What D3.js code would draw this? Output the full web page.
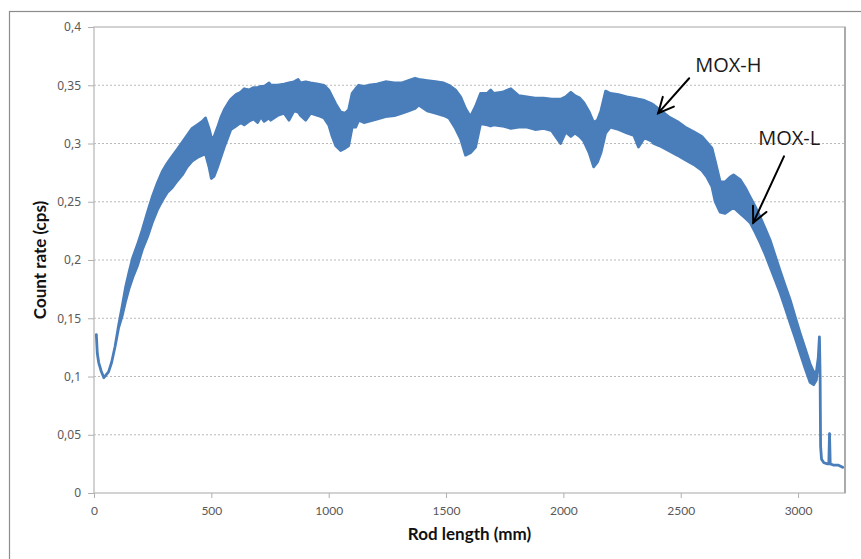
<!DOCTYPE html>
<html><head><meta charset="utf-8">
<script src="https://cdn.jsdelivr.net/npm/d3@7"></script>
<style>html,body{margin:0;padding:0;background:#fff;}svg{display:block;}</style>
</head><body>
<svg id="chart" width="861" height="559"></svg>
<script>
// ---- data ----
const rodLength = [10,14,20,30,42,50,62,75,90,105,120,135,150,165,185,206,228,248,270,291,312,333,355,376,397,418,440,461,475,490,500,512,525,540,555,570,583,605,625,640,660,680,697,711,725,746,753,782,810,831,852,870,880,902,923,955,980,1000,1015,1030,1051,1070,1085,1100,1115,1128,1150,1170,1205,1242,1280,1313,1340,1368,1384,1420,1455,1490,1512,1540,1562,1583,1604,1626,1647,1675,1690,1703,1740,1776,1810,1845,1880,1916,1950,1988,2010,2032,2050,2070,2087,2110,2129,2145,2160,2180,2200,2235,2270,2300,2320,2345,2377,2385,2410,2448,2485,2519,2555,2590,2612,2633,2647,2668,2689,2710,2725,2753,2775,2796,2817,2838,2860,2881,2902,2923,2945,2966,2988,3009,3030,3051,3066,3078,3086,3091,3094,3096,3100,3110,3125,3131,3134,3137,3150,3170,3190];
const countLow = [.136,.120,.112,.105,.099,.101,.104,.112,.126,.142,.152,.165,.176,.185,.195,.209,.220,.232,.243,.251,.258,.262,.268,.273,.280,.285,.288,.290,.291,.280,.270,.272,.279,.288,.297,.305,.312,.315,.318,.316,.319,.321,.318,.323,.319,.322,.320,.324,.326,.320,.328,.327,.324,.320,.326,.324,.322,.316,.306,.298,.294,.296,.298,.314,.314,.320,.318,.319,.321,.323,.324,.326,.328,.330,.333,.328,.326,.324,.322,.313,.304,.290,.292,.297,.317,.316,.315,.316,.315,.313,.314,.314,.312,.313,.311,.300,.310,.306,.309,.306,.302,.292,.280,.284,.292,.309,.314,.312,.309,.307,.297,.305,.302,.300,.298,.294,.290,.286,.282,.277,.271,.263,.250,.241,.240,.243,.245,.240,.236,.232,.224,.215,.205,.194,.183,.172,.159,.146,.133,.120,.107,.095,.093,.097,.112,.134,.100,.040,.029,.026,.025,.025,.051,.025,.024,.024,.022];
const countHigh = [.136,.120,.112,.105,.099,.101,.104,.112,.126,.144,.160,.177,.190,.202,.213,.226,.241,.254,.266,.276,.283,.289,.295,.301,.307,.313,.316,.319,.322,.313,.305,.306,.313,.322,.329,.334,.338,.342,.344,.347,.346,.348,.348,.349,.349,.352,.350,.350,.351,.352,.353,.355,.352,.353,.352,.351,.350,.346,.340,.334,.327,.326,.329,.343,.347,.350,.349,.350,.351,.353,.352,.352,.354,.356,.355,.354,.353,.352,.350,.346,.340,.330,.323,.332,.343,.343,.346,.343,.344,.347,.341,.340,.339,.339,.338,.338,.340,.344,.341,.339,.335,.327,.318,.320,.328,.345,.343,.342,.340,.339,.338,.337,.334,.333,.329,.323,.319,.314,.310,.306,.301,.296,.285,.267,.267,.271,.273,.269,.262,.254,.246,.237,.227,.217,.204,.191,.178,.166,.151,.137,.124,.111,.104,.104,.116,.134,.100,.040,.029,.026,.025,.025,.051,.025,.024,.024,.022];

const yTicks = [0,0.05,0.1,0.15,0.2,0.25,0.3,0.35,0.4];
const yTickLabels = ["0","0,05","0,1","0,15","0,2","0,25","0,3","0,35","0,4"];
const xTicks = [0,500,1000,1500,2000,2500,3000];
const xTickLabels = ["0","500","1000","1500","2000","2500","3000"];

const annotLabels = ["MOX-H","MOX-L"];
const annotHead = [[2404,0.326],[2809,0.232]];
const annotTail = [[2536,0.356],[2940,0.289]];
const annotText = [[2562,0.361],[2830,0.299]];

// ---- drawing ----
const svg = d3.select("#chart");
const W = 861, H = 559;
const L = 94, R = 845, T = 27, B = 493;
const x = d3.scaleLinear().domain([0,3200]).range([L,R]);
const y = d3.scaleLinear().domain([0,0.4]).range([B,T]);

svg.append("rect").attr("width",W).attr("height",H).attr("fill","#fff");
// outer chart frame
svg.append("rect").attr("x",9.5).attr("y",11.5).attr("width",W+20).attr("height",H+20)
  .attr("fill","none").attr("stroke","#8c8c8c").attr("stroke-width",1.2);

// gridlines
svg.append("g").selectAll("line").data(yTicks.filter(v=>v>0 && v<0.4)).join("line")
  .attr("x1",L).attr("x2",R).attr("y1",d=>y(d)).attr("y2",d=>y(d))
  .attr("stroke","#b9b9b9").attr("stroke-width",1).attr("stroke-dasharray","2,2");

// plot area border
svg.append("rect").attr("x",L).attr("y",T).attr("width",R-L).attr("height",B-T)
  .attr("fill","none").attr("stroke","#c4c4c4").attr("stroke-width",1.5);
svg.append("line").attr("x1",R).attr("x2",R).attr("y1",T).attr("y2",B)
  .attr("stroke","#a6a6a6").attr("stroke-width",1.8);

// data band
const pts = rodLength.map((m,i)=>({m, lo:countLow[i], hi:countHigh[i]}));
const area = d3.area().x(d=>x(d.m)).y0(d=>y(d.lo)).y1(d=>y(d.hi));
svg.append("path").datum(pts).attr("d",area)
  .attr("fill","#4A7EBB").attr("stroke","#4A7EBB").attr("stroke-width",2.8)
  .attr("stroke-linejoin","round");

// axes
const yAxis = d3.axisLeft(y).tickValues(yTicks).tickSize(6).tickPadding(7)
  .tickFormat((d,i)=>yTickLabels[i]);
const gy = svg.append("g").attr("transform",`translate(${L},0)`).call(yAxis);
gy.select(".domain").remove();
gy.selectAll(".tick line").attr("stroke","#b0b0b0");
gy.selectAll("text").attr("fill","#595959").style("font-family","'Noto Sans', sans-serif").style("font-size","12px");

const xAxis = d3.axisBottom(x).tickValues(xTicks).tickSize(5).tickPadding(8)
  .tickFormat((d,i)=>xTickLabels[i]);
const gx = svg.append("g").attr("transform",`translate(0,${B})`).call(xAxis);
gx.select(".domain").remove();
gx.selectAll(".tick line").attr("stroke","#b0b0b0");
gx.selectAll("text").attr("fill","#595959").style("font-family","Lato, sans-serif").style("font-size","12px");

// axis titles
svg.append("text").attr("x",(L+R)/2).attr("y",540).attr("text-anchor","middle")
  .style("font-family","Lato, sans-serif").style("font-weight","bold").style("font-size","17px")
  .attr("fill","#111").text("Rod length (mm)");
svg.append("text").attr("transform",`translate(46,${(T+B)/2}) rotate(-90)`).attr("text-anchor","middle")
  .style("font-family","Lato, sans-serif").style("font-weight","bold").style("font-size","17px")
  .attr("fill","#111").text("Count rate (cps)");

// annotations
annotLabels.forEach((lab,i)=>{
  const hx = x(annotHead[i][0]), hy = y(annotHead[i][1]);
  const tx = x(annotTail[i][0]), ty = y(annotTail[i][1]);
  const ang = Math.atan2(ty-hy, tx-hx);
  const len = 17, spread = 0.45;
  const g = svg.append("g").attr("stroke","#000").attr("stroke-width",2).attr("fill","none").attr("stroke-linecap","round");
  g.append("line").attr("x1",tx).attr("y1",ty).attr("x2",hx).attr("y2",hy);
  g.append("polyline").attr("points",[
    [hx+len*Math.cos(ang+spread), hy+len*Math.sin(ang+spread)],
    [hx,hy],
    [hx+len*Math.cos(ang-spread), hy+len*Math.sin(ang-spread)]
  ].map(p=>p.join(",")).join(" "));
  svg.append("text").attr("x",x(annotText[i][0])).attr("y",y(annotText[i][1]))
    .style("font-family","'Open Sans', sans-serif").style("font-size","20px").attr("fill","#1a1a1a").text(lab);
});
</script>
</body></html>
